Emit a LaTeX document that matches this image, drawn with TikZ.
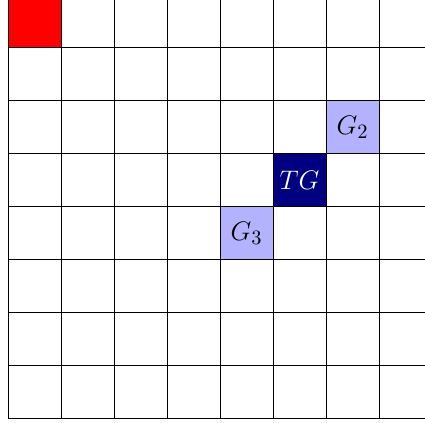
\documentclass[tikz,border=0pt]{standalone}
\begin{document}
\begin{tikzpicture}[
  cell/.style={minimum size=1cm, inner sep=0pt, outer sep=0pt, font=\fontsize{15}{18}\selectfont},
  ghost/.style={cell, fill=blue!30, draw=blue!60!black, line width=0.3pt},
  target/.style={cell, fill=blue!50!black, text=white},
  start/.style={cell, fill=red},
  gridline/.style={black, line width=0.5pt}
]
\useasboundingbox (-0.151,-0.085) rectangle (7.868,7.896);
\clip (-0.151,-0.085) rectangle (7.868,7.896);
\node[start] (s) at (0.5,7.5) {};
\node[ghost] (g2) at (6.5,5.5) {$G_2$};
\node[target] (tg) at (5.5,4.5) {$TG$};
\node[ghost] (g3) at (4.5,3.5) {$G_3$};
\draw[gridline] (0,0) grid (9,9);
\end{tikzpicture}
\end{document}
